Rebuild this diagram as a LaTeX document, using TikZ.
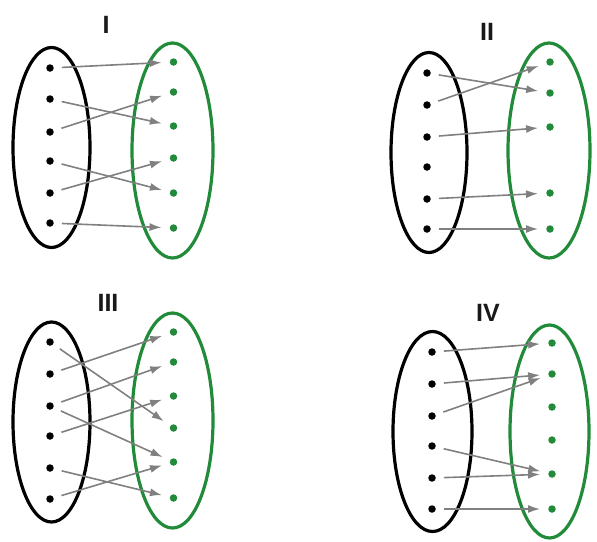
\documentclass[tikz,border=0pt]{standalone}
\usepackage{fontspec}
\setmainfont{Liberation Sans}
\usetikzlibrary{arrows.meta}
\definecolor{grn}{RGB}{34,139,58}
\definecolor{arr}{RGB}{128,128,128}
\tikzset{
  setA/.style={draw=black, line width=3.2pt},
  setB/.style={draw=grn, line width=3.2pt},
  bdot/.style={circle, fill=black, inner sep=0pt, minimum size=7.5pt},
  gdot/.style={circle, fill=grn, inner sep=0pt, minimum size=7.5pt},
  map/.style={draw=arr, line width=1.6pt, -{Latex[length=12pt,width=8pt]}, shorten <=8pt, shorten >=8pt},
  ttl/.style={font=\fontsize{25}{27}\selectfont\bfseries, text=black!90}
}
\begin{document}
\begin{tikzpicture}[x=1pt,y=-1pt]
\useasboundingbox (0,0) rectangle (597,541);
% ---------- I ----------
\node[ttl] (tI) at (106,25) {I};
\draw[setA] (51.5,147.5) ellipse [x radius=38.5, y radius=100];
\draw[setB] (172.5,150.5) ellipse [x radius=40.5, y radius=107.5];
\foreach \i/\y in {1/68,2/99,3/132,4/161,5/193,6/223} \node[bdot] (Ia\i) at (50,\y) {};
\foreach \i/\y in {1/62,2/92,3/126,4/158,5/193,6/228} \node[gdot] (Ib\i) at (173.5,\y) {};
\foreach \s/\t in {1/1,2/3,3/2,4/5,5/4,6/6} \draw[map] (Ia\s) -- (Ib\t);
% ---------- II ----------
\node[ttl] (tII) at (487,32) {II};
\draw[setA] (429,152.5) ellipse [x radius=38, y radius=100];
\draw[setB] (549,150.5) ellipse [x radius=41, y radius=107.5];
\foreach \i/\y in {1/73,2/105,3/137,4/167,5/199,6/229} \node[bdot] (IIa\i) at (427,\y) {};
\foreach \i/\y in {1/62,2/93,3/127,5/193,6/229} \node[gdot] (IIb\i) at (550,\y) {};
\foreach \s/\t in {1/2,2/1,3/3,5/5,6/6} \draw[map] (IIa\s) -- (IIb\t);
% ---------- III ----------
\node[ttl] (tIII) at (108,303) {III};
\draw[setA] (51.5,422) ellipse [x radius=38.5, y radius=100];
\draw[setB] (172.5,420.5) ellipse [x radius=40.5, y radius=107.5];
\foreach \i/\y in {1/342,2/374,3/406,4/436,5/468,6/499} \node[bdot] (IIIa\i) at (50,\y) {};
\foreach \i/\y in {1/332,2/362,3/396,4/428,5/462,6/498} \node[gdot] (IIIb\i) at (173.5,\y) {};
\foreach \s/\t in {1/4,2/1,3/2,3/5,4/3,5/6,6/5} \draw[map] (IIIa\s) -- (IIIb\t);
% ---------- IV ----------
\node[ttl] (tIV) at (488,313) {IV};
\draw[setA] (432.5,431.5) ellipse [x radius=39.5, y radius=100];
\draw[setB] (549.5,431.5) ellipse [x radius=39.5, y radius=106.5];
\foreach \i/\y in {1/352,2/384,3/416,4/446,5/478,6/509} \node[bdot] (IVa\i) at (432,\y) {};
\foreach \i/\y in {1/343,2/374,3/407,4/440,5/474,6/509} \node[gdot] (IVb\i) at (552,\y) {};
\foreach \s/\t in {1/1,2/2,3/2,4/5,5/5,6/6} \draw[map] (IVa\s) -- (IVb\t);
\end{tikzpicture}
\end{document}
